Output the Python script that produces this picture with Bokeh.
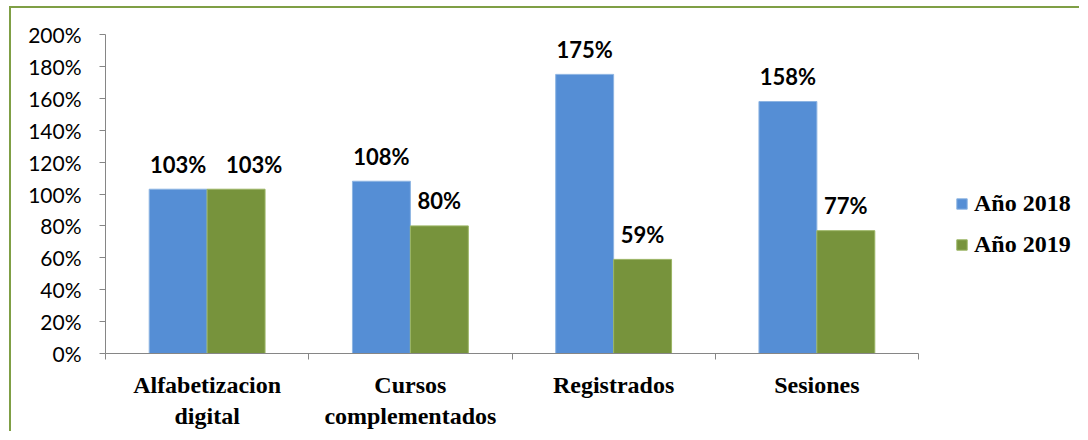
import numpy as np
from bokeh.plotting import figure
from bokeh.models import (ColumnDataSource, Range1d, LinearAxis, FixedTicker, NumeralTickFormatter,
                          Legend, LegendItem)
from bokeh.core.properties import value
from bokeh.embed import file_html
from bokeh.resources import INLINE

# ---- data ----
categories = ["Alfabetizacion digital", "Cursos complementados", "Registrados", "Sesiones"]
category_labels = ["Alfabetizacion\ndigital", "Cursos\ncomplementados", "Registrados", "Sesiones"]
series_names = ["Año 2018", "Año 2019"]
values_2018 = [1.03, 1.08, 1.75, 1.58]
values_2019 = [1.03, 0.80, 0.59, 0.77]
y_ticks = [0.0, 0.2, 0.4, 0.6, 0.8, 1.0, 1.2, 1.4, 1.6, 1.8, 2.0]

# label nudge (screen px) used by the original for the overlapping 103% label
label_nudge_2019 = [18, 0, 0, 0]

BLUE = "#558ED5"
GREEN = "#77933C"
AXIS = "#868686"
BORDER = "#7F9F45"

n = len(categories)
centers = np.arange(n) + 0.5
bw = 0.285

# layout: the plotting frame extends under the legend; the axis line is bounded to the categories
AXIS_PX = 813.0      # width of the category axis in pixels
FRAME_PX = 974.0     # width of the frame (axis + legend area)
x_end = n * FRAME_PX / AXIS_PX

src = ColumnDataSource(dict(
    x18=centers - bw / 2,
    x19=centers + bw / 2,
    v18=values_2018,
    v19=values_2019,
    t18=[f"{round(v * 100)}%" for v in values_2018],
    t19=[f"{round(v * 100)}%" for v in values_2019],
    dx19=label_nudge_2019,
))

p = figure(x_range=Range1d(0, x_end), y_range=Range1d(0, 2.0),
           width=1070, height=425,
           output_backend="svg", toolbar_location=None,
           x_axis_location=None, y_axis_location=None,
           min_border_left=94, min_border_right=2, min_border_top=26, min_border_bottom=80)
p.styles = {"border-top": f"2px solid {BORDER}", "border-left": f"2px solid {BORDER}",
            "margin-top": "6px", "margin-left": "9px"}
p.outline_line_color = None
p.xgrid.visible = False
p.ygrid.visible = False
p.background_fill_color = "white"
p.border_fill_color = "white"

r18 = p.vbar(x="x18", top="v18", width=bw, source=src,
             fill_color=BLUE, line_color="#8DB4E2", line_width=1)
r19 = p.vbar(x="x19", top="v19", width=bw, source=src,
             fill_color=GREEN, line_color="#9BB564", line_width=1)

lab_font = value("Lato")
p.text(x="x18", y="v18", text="t18", source=src,
       text_font=lab_font, text_font_style="bold", text_font_size="22px", text_color="black",
       text_align="center", text_baseline="alphabetic", y_offset=-25)
p.text(x="x19", y="v19", text="t19", source=src,
       text_font=lab_font, text_font_style="bold", text_font_size="22px", text_color="black",
       text_align="center", text_baseline="alphabetic", y_offset=-25, x_offset="dx19")

# y axis
yax = LinearAxis(ticker=FixedTicker(ticks=y_ticks), formatter=NumeralTickFormatter(format="0%"))
yax.axis_line_color = AXIS
yax.major_tick_line_color = AXIS
yax.major_tick_out = 6
yax.major_tick_in = 0
yax.minor_tick_line_color = None
yax.major_label_text_font = "Lato"
yax.major_label_text_font_size = "21px"
yax.major_label_text_color = "black"
yax.major_label_standoff = 18
p.add_layout(yax, "left")

# x axis: labels at category centres, tick marks at category boundaries (minor ticks)
xax = LinearAxis(ticker=FixedTicker(ticks=list(centers), minor_ticks=list(range(n + 1))),
                 bounds=(0, n))
xax.axis_line_color = AXIS
xax.major_tick_line_color = None
xax.minor_tick_line_color = AXIS
xax.minor_tick_out = 6
xax.minor_tick_in = 0
xax.major_label_overrides = {float(c): lab for c, lab in zip(centers, category_labels)}
xax.major_label_text_font = "Liberation Serif"
xax.major_label_text_font_style = "bold"
xax.major_label_text_font_size = "24px"
xax.major_label_text_color = "black"
xax.major_label_standoff = 12
p.add_layout(xax, "below")

legend = Legend(items=[LegendItem(label=series_names[0], renderers=[r18]),
                       LegendItem(label=series_names[1], renderers=[r19])],
                location=(850, 95))
legend.label_text_font = "Liberation Serif"
legend.label_text_font_style = "bold"
legend.label_text_font_size = "24px"
legend.label_text_color = "black"
legend.glyph_width = 13
legend.glyph_height = 13
legend.label_standoff = 6
legend.spacing = 14
legend.padding = 0
legend.margin = 0
legend.border_line_color = None
legend.background_fill_alpha = 0
p.add_layout(legend, "center")

open("out.html", "w").write(file_html(p, INLINE))
